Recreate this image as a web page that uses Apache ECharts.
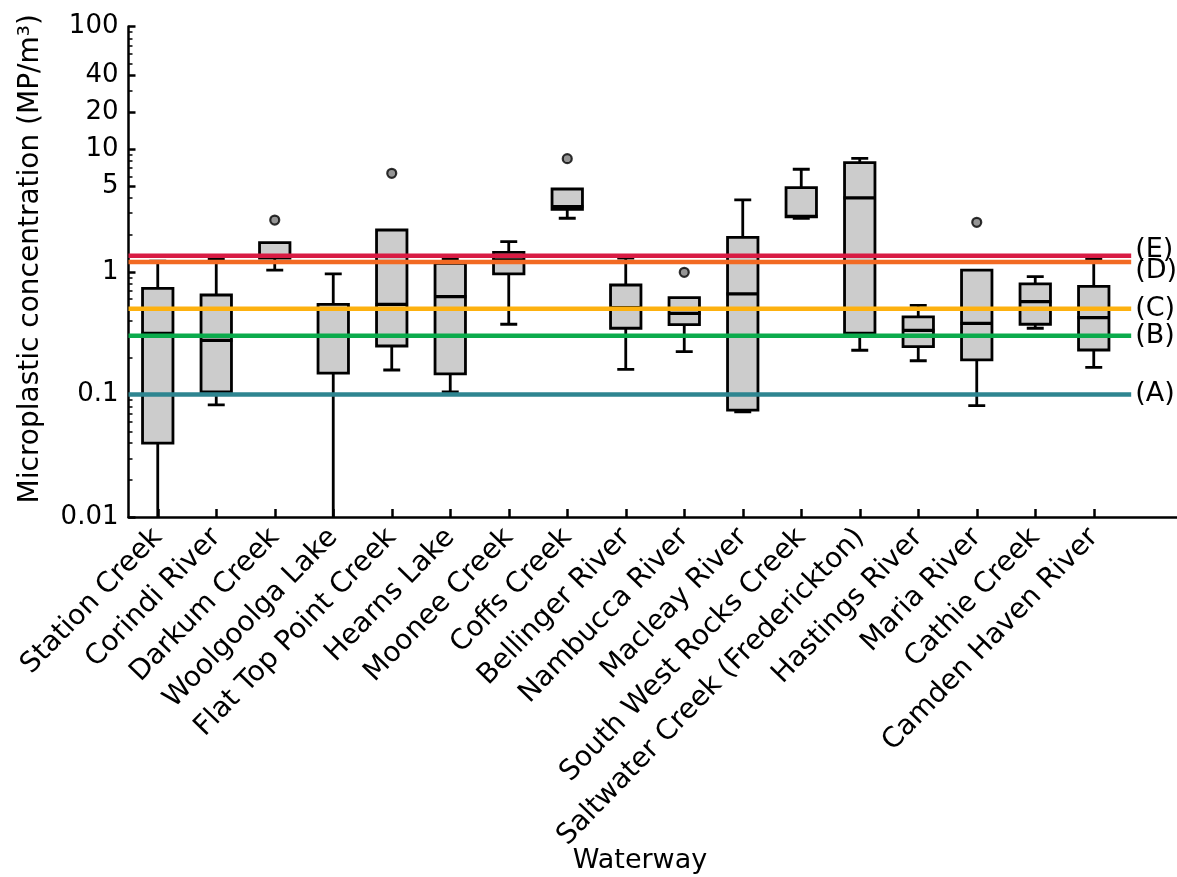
<!DOCTYPE html>
<html>
<head>
<meta charset="utf-8">
<script src="https://cdn.jsdelivr.net/npm/echarts@6/dist/echarts.min.js"></script>
<style>
  html, body { margin: 0; padding: 0; background: #ffffff; }
  #chart { width: 1177px; height: 877px; }
</style>
</head>
<body>
<div id="chart"></div>
<script>
// Waterways sampled, north to south
const categories = [
  'Station Creek', 'Corindi River', 'Darkum Creek', 'Woolgoolga Lake',
  'Flat Top Point Creek', 'Hearns Lake', 'Moonee Creek', 'Coffs Creek',
  'Bellinger River', 'Nambucca River', 'Macleay River', 'South West Rocks Creek',
  'Saltwater Creek (Frederickton)', 'Hastings River', 'Maria River',
  'Cathie Creek', 'Camden Haven River'
];

// Box-plot statistics (MP/m³)
const whiskerLow  = [0.005, 0.082, 1.03, 0.005, 0.158, 0.105, 0.373, 2.73, 0.16, 0.223, 0.072, 2.73, 0.229, 0.188, 0.081, 0.346, 0.166];
const quartile1   = [0.040, 0.105, 1.29, 0.149, 0.248, 0.147, 0.96, 3.23, 0.346, 0.37, 0.0745, 2.80, 0.315, 0.245, 0.191, 0.373, 0.23];
const medians     = [0.315, 0.276, 1.34, 0.30, 0.542, 0.626, 1.25, 3.40, 0.509, 0.458, 0.659, 2.83, 4.0, 0.333, 0.38, 0.57, 0.422];
const quartile3   = [0.733, 0.646, 1.73, 0.542, 2.19, 1.17, 1.44, 4.73, 0.78, 0.615, 1.91, 4.85, 7.76, 0.428, 1.03, 0.795, 0.761];
const whiskerHigh = [1.22, 1.28, 1.73, 0.96, 2.19, 1.28, 1.76, 4.73, 1.29, 0.618, 3.85, 6.85, 8.42, 0.532, 1.03, 0.912, 1.28];

// Outliers: [waterway index, concentration]
const outliers = [[2, 2.64], [4, 6.35], [7, 8.36], [9, 0.99], [14, 2.53]];

// Reference concentration levels
const levelNames  = ['(A)', '(B)', '(C)', '(D)', '(E)'];
const levelValues = [0.1, 0.3, 0.5, 1.2, 1.35];
const levelColors = ['#2e8590', '#0bab4c', '#fdb10f', '#f26a23', '#d81b43'];

// Y-axis ticks
const yMajorTicks = [0.01, 0.1, 1, 5, 10, 20, 40, 100];
const yMinorTicks = [0.02, 0.03, 0.04, 0.05, 0.06, 0.07, 0.08, 0.09,
                     0.2, 0.3, 0.4, 0.5, 0.6, 0.7, 0.8, 0.9,
                     2, 3, 4, 6, 7, 8, 9,
                     30, 50, 60, 70, 80, 90];

const FONT = 'DejaVu Sans';
const xCategories = categories.concat(['']);  // spare slot on the right for level labels

const boxData = categories.map((c, i) => [i, whiskerLow[i], quartile1[i], medians[i], quartile3[i], whiskerHigh[i]]);
const levelData = levelValues.map((v, i) => [0, v, i]);

function renderBox(params, api) {
  const i = api.value(0);
  const band = api.size([1, 0])[0];
  const cx = api.coord([i, 1])[0];
  const py = k => api.coord([i, api.value(k)])[1];
  const yLo = py(1), yQ1 = py(2), yMed = py(3), yQ3 = py(4), yHi = py(5);
  const half = band * 0.26;
  const cap = band * 0.145;
  const stroke = { stroke: '#000', lineWidth: 2.8, fill: null };
  const children = [];
  if (yHi < yQ3 - 0.5) {
    children.push({ type: 'line', shape: { x1: cx, y1: yQ3, x2: cx, y2: yHi }, style: stroke });
    children.push({ type: 'line', shape: { x1: cx - cap, y1: yHi, x2: cx + cap, y2: yHi }, style: stroke });
  }
  if (yLo > yQ1 + 0.5) {
    children.push({ type: 'line', shape: { x1: cx, y1: yQ1, x2: cx, y2: yLo }, style: stroke });
    children.push({ type: 'line', shape: { x1: cx - cap, y1: yLo, x2: cx + cap, y2: yLo }, style: stroke });
  }
  children.push({
    type: 'rect',
    shape: { x: cx - half, y: yQ3, width: half * 2, height: yQ1 - yQ3 },
    style: { fill: '#cccccc', stroke: '#000', lineWidth: 2.8 }
  });
  children.push({ type: 'line', shape: { x1: cx - half - 1, y1: yMed, x2: cx + half + 1, y2: yMed }, style: { stroke: '#000', lineWidth: 3.2 } });
  return { type: 'group', children };
}

function renderLevel(params, api) {
  const v = api.value(1);
  const k = api.value(2);
  const band = api.size([1, 0])[0];
  const y = api.coord([0, v])[1];
  const x0 = params.coordSys.x;
  const x1 = api.coord([categories.length - 1, v])[0] + band * 0.64;
  const labelShift = [0, 0, 0, 9, -6][k];
  return {
    type: 'group',
    children: [
      { type: 'line', shape: { x1: x0, y1: y, x2: x1, y2: y }, style: { stroke: levelColors[k], lineWidth: 4.5 } },
      { type: 'text', x: x1 + 4, y: y + labelShift,
        style: { text: levelNames[k], fill: '#000', font: '27px "' + FONT + '"', textAlign: 'left', textVerticalAlign: 'middle' } }
    ]
  };
}

const fmt = v => String(+(+v).toPrecision(3));

const chart = echarts.init(document.getElementById('chart'), null, { renderer: 'canvas' });
chart.setOption({
  animation: false,
  backgroundColor: '#ffffff',
  grid: {
    left: 128.5, right: -4.5, top: 26.5, bottom: 360,
    containLabel: false, outerBoundsMode: 'none'
  },
  xAxis: {
    type: 'category',
    data: xCategories,
    boundaryGap: true,
    axisLine: { show: true, lineStyle: { color: '#000', width: 2.5 } },
    axisTick: {
      show: true, inside: true, length: 8, alignWithLabel: true,
      interval: (idx) => idx < categories.length,
      lineStyle: { color: '#000', width: 2.5 }
    },
    axisLabel: { interval: 0, rotate: 46, fontSize: 28, fontFamily: FONT, color: '#000', margin: 16 },
    splitLine: { show: false },
    name: 'Waterway',
    nameLocation: 'middle',
    nameGap: 330,
    nameMoveOverlap: false,
    nameTextStyle: { fontSize: 27, fontFamily: FONT, color: '#000', padding: [0, 30, 0, 0] }
  },
  yAxis: [{
    type: 'log', logBase: 10, min: 0.01, max: 100, position: 'left',
    axisLine: { show: true, lineStyle: { color: '#000', width: 2.5 } },
    axisTick: { show: true, inside: true, length: 7, customValues: yMajorTicks, lineStyle: { color: '#000', width: 2.5 } },
    axisLabel: { customValues: yMajorTicks, formatter: fmt, fontSize: 26, fontFamily: FONT, color: '#000', margin: 10 },
    splitLine: { show: false },
    name: 'Microplastic concentration (MP/m³)',
    nameLocation: 'middle',
    nameGap: 84,
    nameMoveOverlap: false,
    nameTextStyle: { fontSize: 28, fontFamily: FONT, color: '#000', padding: [0, 0, 0, 26] }
  }, {
    type: 'log', logBase: 10, min: 0.01, max: 100, position: 'left', offset: 0,
    axisLine: { show: false },
    axisTick: { show: true, inside: true, length: 4, customValues: yMinorTicks, lineStyle: { color: '#000', width: 1.5 } },
    axisLabel: { show: false },
    splitLine: { show: false }
  }],
  series: [
    {
      type: 'custom', name: 'boxes', yAxisIndex: 0, z: 2, clip: true,
      renderItem: renderBox, data: boxData,
      encode: { x: 0, y: [1, 2, 3, 4, 5] }
    },
    {
      type: 'scatter', name: 'outliers', yAxisIndex: 0, z: 3,
      data: outliers, symbol: 'circle', symbolSize: 9,
      itemStyle: { color: '#7a7a7a', borderColor: '#000', borderWidth: 2.2 }
    },
    {
      type: 'custom', name: 'levels', yAxisIndex: 0, z: 4,
      renderItem: renderLevel, data: levelData, clip: false,
      encode: { x: 0, y: 1 }
    }
  ]
});
</script>
</body>
</html>
